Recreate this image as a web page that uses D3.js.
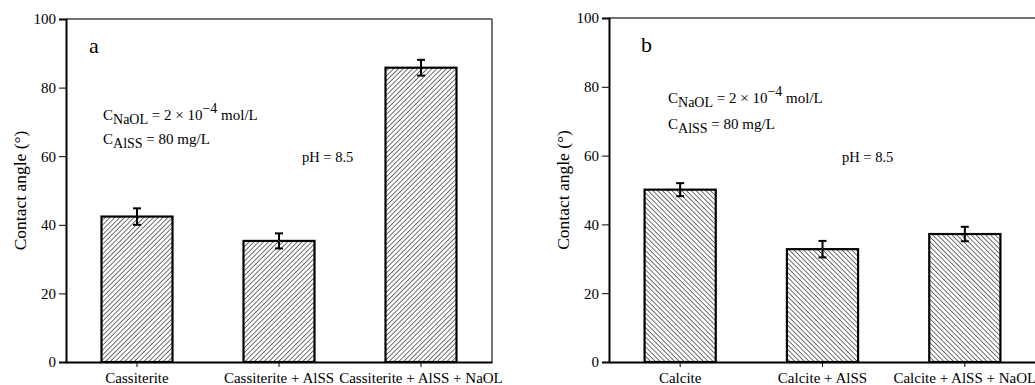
<!DOCTYPE html>
<html>
<head>
<meta charset="utf-8">
<script src="https://cdn.jsdelivr.net/npm/d3@7"></script>
<style>
  body { margin: 0; background: #fff; }
  svg text { font-family: "Times New Roman", "Liberation Serif", Tinos, "DejaVu Serif", serif; }
</style>
</head>
<body>
<div id="chart"></div>
<script>
// data
const catsA = ["Cassiterite", "Cassiterite + AlSS", "Cassiterite + AlSS + NaOL"];
const valsA = [42.4, 35.3, 85.8];
const errA = [2.4, 2.2, 2.3];

const catsB = ["Calcite", "Calcite + AlSS", "Calcite + AlSS + NaOL"];
const valsB = [50.1, 32.8, 37.2];
const errB = [1.9, 2.4, 2.1];

const yTicks = [0, 20, 40, 60, 80, 100];
const serif = '"Times New Roman", "Liberation Serif", Tinos, "DejaVu Serif", serif';

const svg = d3.select("#chart").append("svg")
  .attr("width", 1035).attr("height", 385);

const defs = svg.append("defs");
// hatch patterns: "/" for a, "\" for b
function hatch(id, dir) {
  const s = 3.4;
  const p = defs.append("pattern")
    .attr("id", id)
    .attr("patternUnits", "userSpaceOnUse")
    .attr("width", s).attr("height", s)
    .attr("patternTransform", `rotate(${dir * 45})`);
  p.append("rect").attr("width", s).attr("height", s).attr("fill", "#fff");
  p.append("line").attr("x1", 0).attr("y1", 0).attr("x2", 0).attr("y2", s)
    .attr("stroke", "#000").attr("stroke-width", 1.1);
}
hatch("hatchA", 1);
hatch("hatchB", -1);

function panel(opts) {
  const {left, right, top, bottom, cats, vals, errs, fill, letter, ann} = opts;
  const g = svg.append("g");

  const x = d3.scaleBand().domain(cats).range([left, right])
    .paddingInner(0.5).paddingOuter(0.25);
  const y = d3.scaleLinear().domain([0, 100]).range([bottom, top]);

  // frame top / right
  g.append("line").attr("x1", left).attr("x2", right).attr("y1", top).attr("y2", top)
    .attr("stroke", "#444").attr("stroke-width", 1.5);
  g.append("line").attr("x1", right).attr("x2", right).attr("y1", top).attr("y2", bottom)
    .attr("stroke", "#444").attr("stroke-width", 1.5);

  // bars
  cats.forEach((c, i) => {
    g.append("rect")
      .attr("x", x(c)).attr("y", y(vals[i]))
      .attr("width", x.bandwidth()).attr("height", y(0) - y(vals[i]))
      .attr("fill", `url(#${fill})`)
      .attr("stroke", "#000").attr("stroke-width", 2.2);
    const cx = x(c) + x.bandwidth() / 2;
    const eb = g.append("g").attr("stroke", "#000").attr("stroke-width", 2);
    eb.append("line").attr("x1", cx).attr("x2", cx)
      .attr("y1", y(vals[i] + errs[i])).attr("y2", y(vals[i] - errs[i]));
    eb.append("line").attr("x1", cx - 4).attr("x2", cx + 4)
      .attr("y1", y(vals[i] + errs[i])).attr("y2", y(vals[i] + errs[i]));
    eb.append("line").attr("x1", cx - 4).attr("x2", cx + 4)
      .attr("y1", y(vals[i] - errs[i])).attr("y2", y(vals[i] - errs[i]));
  });

  // axes
  const ya = g.append("g").attr("transform", `translate(${left},0)`)
    .call(d3.axisLeft(y).tickValues(yTicks).tickSize(7).tickPadding(3));
  ya.attr("font-family", serif);
  ya.select(".domain").attr("stroke-width", 2);
  ya.selectAll("text").attr("font-size", 15).attr("fill", "#000");

  const xa = g.append("g").attr("transform", `translate(0,${bottom})`)
    .call(d3.axisBottom(x).tickSize(5).tickSizeOuter(0));
  xa.attr("font-family", serif);
  xa.select(".domain").attr("stroke-width", 2);
  xa.selectAll("text").attr("font-size", 15).attr("fill", "#000")
    .attr("dy", null).attr("y", 21);

  // y label
  g.append("text")
    .attr("transform", `translate(${left - 40},${(top + bottom) / 2}) rotate(-90)`)
    .attr("text-anchor", "middle").attr("font-size", 17.5)
    .text("Contact angle (°)");

  // panel letter
  g.append("text").attr("x", ann.lx).attr("y", ann.ly)
    .attr("font-size", 22).text(letter);

  // annotations
  const t1 = g.append("text").attr("x", ann.cx).attr("y", ann.cy1).attr("font-size", 15);
  t1.append("tspan").text("C");
  t1.append("tspan").attr("dy", 4).attr("font-size", 14).text("NaOL");
  t1.append("tspan").attr("dy", -4).text(" = 2 × 10");
  t1.append("tspan").attr("dy", -7).attr("font-size", 14).text("−4");
  t1.append("tspan").attr("dy", 7).text(" mol/L");

  const t2 = g.append("text").attr("x", ann.cx).attr("y", ann.cy2).attr("font-size", 15);
  t2.append("tspan").text("C");
  t2.append("tspan").attr("dy", 4).attr("font-size", 14).text("AlSS");
  t2.append("tspan").attr("dy", -4).text(" = 80 mg/L");

  g.append("text").attr("x", ann.px).attr("y", ann.py).attr("font-size", 14.5).text("pH = 8.5");
}

panel({left: 66, right: 492, top: 19, bottom: 362, cats: catsA, vals: valsA, errs: errA,
  fill: "hatchA", letter: "a",
  ann: {lx: 89, ly: 53, cx: 103, cy1: 120, cy2: 144, px: 302, py: 162}});

panel({left: 609, right: 1036, top: 18, bottom: 362, cats: catsB, vals: valsB, errs: errB,
  fill: "hatchB", letter: "b",
  ann: {lx: 641, ly: 52, cx: 668, cy1: 103, cy2: 129, px: 842, py: 162}});
</script>
</body>
</html>
